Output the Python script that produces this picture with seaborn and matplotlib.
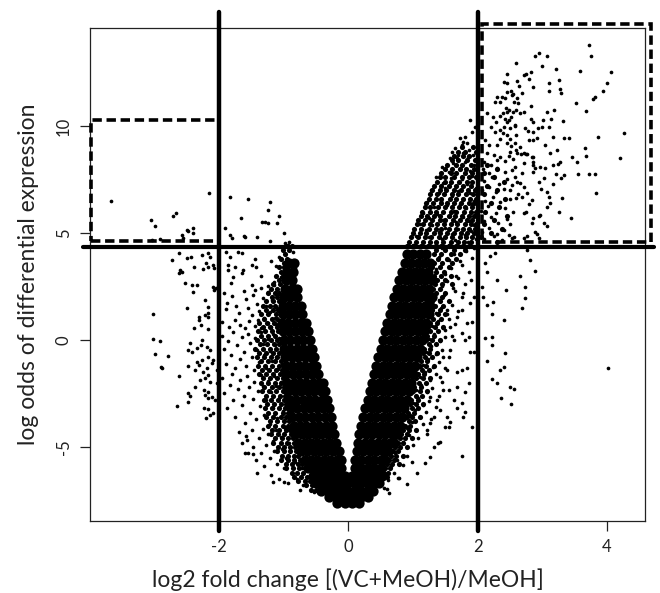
import pandas as pd
import matplotlib
matplotlib.use("Agg")
import matplotlib.pyplot as plt
from matplotlib.patches import Rectangle
import seaborn as sns

# ---------------- chart text / scales ----------------
x_label = "log2 fold change [(VC+MeOH)/MeOH]"
y_label = "log odds of differential expression"
x_ticks = [-2, 0, 2, 4]
y_ticks = [-5, 0, 5, 10]
x_lim = (-4.0, 4.59)
y_lim = (-8.46, 14.58)

# thresholds and highlighted regions
fc_cut = 2.0
odds_cut = 4.35
left_box = (-3.98, 4.62, -2.0, 10.28)     # x0, y0, x1, y1
right_box = (2.06, 4.60, 4.68, 14.78)

# ---------------- data ----------------
# solid core of the volcano, per row of log-odds
core_rows_y = [4.0, 3.6, 3.2, 2.8, 2.4, 2.0, 1.6, 1.2, 0.8, 0.4, 0.0, -0.4, -0.8, -1.2,
               -1.6, -2.0, -2.4, -2.8, -3.2, -3.6, -4.0, -4.4, -4.8, -5.2, -5.6, -6.0,
               -6.35, -6.7, -7.05, -7.35, -7.6]
core_rows_x = [
    [0.9, 1.0, 1.1, 1.2],
    [-0.92, -0.84, 0.87, 0.97, 1.07, 1.17, 1.27],
    [-0.95, -0.86, 0.83, 0.93, 1.03, 1.13, 1.23],
    [-0.96, -0.87, 0.79, 0.89, 0.99, 1.09, 1.19, 1.29],
    [-0.98, -0.88, -0.8, 0.75, 0.85, 0.95, 1.05, 1.15, 1.25],
    [-1.0, -0.9, -0.8, 0.71, 0.81, 0.91, 1.01, 1.11, 1.21, 1.3],
    [-1.02, -0.92, -0.82, -0.74, 0.68, 0.78, 0.88, 0.98, 1.08, 1.18, 1.27],
    [-1.02, -0.92, -0.82, -0.72, 0.64, 0.74, 0.84, 0.94, 1.04, 1.14, 1.24],
    [-1.03, -0.93, -0.83, -0.73, -0.65, 0.6, 0.7, 0.8, 0.9, 1.0, 1.1, 1.2],
    [-1.02, -0.92, -0.82, -0.72, -0.62, 0.57, 0.67, 0.77, 0.87, 0.97, 1.07, 1.17],
    [-1.0, -0.9, -0.8, -0.7, -0.6, 0.54, 0.64, 0.74, 0.84, 0.94, 1.04, 1.14],
    [-1.0, -0.9, -0.8, -0.7, -0.6, -0.56, 0.5, 0.6, 0.7, 0.8, 0.9, 1.0, 1.1],
    [-0.98, -0.88, -0.78, -0.68, -0.58, -0.53, 0.46, 0.56, 0.66, 0.76, 0.86, 0.96, 1.06],
    [-0.97, -0.87, -0.77, -0.67, -0.57, -0.5, 0.43, 0.53, 0.63, 0.73, 0.83, 0.93, 1.03],
    [-0.96, -0.86, -0.76, -0.66, -0.56, -0.47, 0.4, 0.5, 0.6, 0.7, 0.8, 0.9, 1.0],
    [-0.95, -0.85, -0.75, -0.65, -0.55, -0.45, -0.4, 0.37, 0.47, 0.57, 0.67, 0.77, 0.87, 0.97],
    [-0.93, -0.83, -0.73, -0.63, -0.53, -0.43, -0.36, 0.33, 0.43, 0.53, 0.63, 0.73, 0.83, 0.93],
    [-0.91, -0.81, -0.71, -0.61, -0.51, -0.41, -0.33, 0.3, 0.4, 0.5, 0.6, 0.7, 0.8, 0.9],
    [-0.89, -0.79, -0.69, -0.59, -0.49, -0.39, -0.3, 0.26, 0.36, 0.46, 0.56, 0.66, 0.76, 0.86],
    [-0.87, -0.77, -0.67, -0.57, -0.47, -0.37, -0.27, 0.23, 0.33, 0.43, 0.53, 0.63, 0.73, 0.83],
    [-0.85, -0.75, -0.65, -0.55, -0.45, -0.35, -0.25, 0.2, 0.3, 0.4, 0.5, 0.6, 0.7, 0.8],
    [-0.82, -0.72, -0.62, -0.52, -0.42, -0.32, -0.22, 0.17, 0.27, 0.37, 0.47, 0.57, 0.67, 0.75],
    [-0.78, -0.68, -0.58, -0.48, -0.38, -0.28, -0.19, 0.15, 0.25, 0.35, 0.45, 0.55, 0.65, 0.7],
    [-0.74, -0.64, -0.54, -0.44, -0.34, -0.24, -0.15, 0.13, 0.23, 0.33, 0.43, 0.53, 0.62],
    [-0.68, -0.58, -0.48, -0.38, -0.28, -0.18, -0.12, 0.1, 0.2, 0.3, 0.4, 0.5, 0.57],
    [-0.62, -0.52, -0.42, -0.32, -0.22, -0.12, 0.1, 0.2, 0.3, 0.4, 0.5],
    [-0.55, -0.45, -0.35, -0.25, -0.15, -0.05, 0.05, 0.15, 0.25, 0.35, 0.45, 0.52],
    [-0.5, -0.4, -0.3, -0.2, -0.1, 0.0, 0.1, 0.2, 0.3, 0.4, 0.47],
    [-0.42, -0.32, -0.22, -0.12, -0.02, 0.08, 0.18, 0.28, 0.38],
    [-0.3, -0.2, -0.1, 0.0, 0.1, 0.2, 0.3],
    [-0.17, -0.06, 0.05, 0.16],
]

# dense (not solid) flanks of the volcano, per row of log-odds
flank_rows_y = [9.0, 8.8, 8.6, 8.4, 8.2, 8.0, 7.8, 7.6, 7.4, 7.2, 7.0, 6.8, 6.6, 6.4, 6.2, 6.0,
                5.8, 5.6, 5.4, 5.2, 5.0, 4.8, 4.6, 4.4, 4.2, 4.0, 3.8, 3.6, 3.4, 3.2, 3.0, 2.8,
                2.6, 2.4, 2.2, 2.0, 1.8, 1.6, 1.4, 1.2, 1.0, 0.8, 0.6, 0.4, 0.2, 0.0, -0.2,
                -0.4, -0.6, -0.8, -1.0, -1.2, -1.4, -1.6, -1.8, -2.0, -2.2, -2.4, -2.6, -2.8,
                -3.0, -3.2, -3.4, -3.6, -3.8, -4.0, -4.2, -4.4, -4.6, -4.8, -5.0, -5.2, -5.4,
                -5.6, -5.8, -6.0, -6.2, -6.4, -6.6, -6.8, -7.0]
flank_rows_x = [
    [1.76, 1.93],
    [1.69, 1.8, 1.97],
    [1.63, 1.77, 1.86],
    [1.6, 1.7, 1.84, 1.96],
    [1.53, 1.66, 1.75, 1.9, 2.15],
    [1.49, 1.61, 1.73, 1.82, 1.95, 2.3],
    [1.44, 1.58, 1.67, 1.8, 1.91, 2.1],
    [1.41, 1.5, 1.64, 1.75, 1.86, 1.97, 2.25],
    [1.37, 1.49, 1.58, 1.71, 1.83, 1.92, 2.4],
    [1.33, 1.43, 1.56, 1.66, 1.77, 1.9, 2.15],
    [1.3, 1.41, 1.51, 1.63, 1.74, 1.85, 1.96, 2.3],
    [1.27, 1.37, 1.48, 1.6, 1.69, 1.82, 1.93, 2.1],
    [1.24, 1.35, 1.44, 1.57, 1.66, 1.78, 1.88, 1.98, 2.42],
    [1.2, 1.31, 1.43, 1.52, 1.64, 1.74, 1.86, 1.95, 2.2],
    [1.18, 1.27, 1.39, 1.5, 1.6, 1.71, 1.81, 1.92, 2.33],
    [1.14, 1.26, 1.35, 1.47, 1.58, 1.67, 1.79, 1.89, 1.98, 2.12],
    [1.12, 1.22, 1.33, 1.42, 1.55, 1.65, 1.75, 1.86, 1.95, 2.45],
    [1.08, 1.19, 1.3, 1.41, 1.5, 1.62, 1.73, 1.83, 1.92, 2.25],
    [1.06, 1.15, 1.27, 1.37, 1.48, 1.59, 1.68, 1.8, 1.9, 1.98, 2.1],
    [1.02, 1.13, 1.24, 1.35, 1.44, 1.56, 1.66, 1.77, 1.87, 1.96, 2.38],
    [1.0, 1.1, 1.2, 1.32, 1.42, 1.53, 1.63, 1.74, 1.84, 1.94, 2.2],
    [0.97, 1.07, 1.18, 1.28, 1.4, 1.5, 1.6, 1.72, 1.82, 1.92, 2.05],
    [0.94, 1.04, 1.15, 1.26, 1.36, 1.47, 1.58, 1.69, 1.79, 1.9, 2.3],
    [-0.97, -0.88, 0.91, 1.02, 1.12, 1.23, 1.35, 1.44, 1.56, 1.66, 1.77, 1.87],
    [-1.02, -0.92, 1.36, 1.5, 1.64, 1.8],
    [-0.98, 1.32, 1.44, 1.58, 1.72],
    [-1.05, -0.95, 1.38, 1.52, 1.67],
    [-1.0, 1.33, 1.45, 1.6],
    [-1.08, -0.99, 1.3, 1.41, 1.55],
    [-1.04, 1.35, 1.48],
    [-1.12, -1.02, 1.32, 1.44, 1.58],
    [-1.07, 1.37, 1.5],
    [-1.16, -1.06, 1.34, 1.45, 1.6],
    [-1.2, -1.11, 1.31, 1.42],
    [-1.24, -1.14, -1.07, 1.36, 1.5],
    [-1.19, -1.1, 1.33, 1.45],
    [-1.28, -1.17, -1.08, 1.3, 1.42, 1.55],
    [-1.32, -1.22, -1.13, 1.34, 1.47],
    [-1.27, -1.16, -1.09, 1.3, 1.41],
    [-1.36, -1.24, -1.12, 1.27, 1.38, 1.5],
    [-1.3, -1.19, -1.1, 1.31, 1.43],
    [-1.38, -1.26, -1.15, 1.26, 1.37],
    [-1.33, -1.21, -1.11, 1.23, 1.34, 1.46],
    [-1.4, -1.29, -1.18, -1.09, 1.27, 1.39],
    [-1.35, -1.24, -1.14, 1.22, 1.32],
    [-1.42, -1.31, -1.2, -1.1, 1.2, 1.3, 1.42],
    [-1.37, -1.26, -1.15, -1.07, 1.24, 1.35],
    [-1.44, -1.33, -1.22, -1.12, 1.17, 1.27],
    [-1.39, -1.28, -1.17, -1.08, 1.15, 1.25, 1.37],
    [-1.41, -1.3, -1.2, -1.1, 1.19, 1.3],
    [-1.36, -1.25, -1.14, -1.05, 1.12, 1.22],
    [-1.4, -1.29, -1.18, -1.08, 1.1, 1.2, 1.32],
    [-1.34, -1.23, -1.12, -1.03, 1.14, 1.25],
    [-1.38, -1.27, -1.16, -1.06, 1.07, 1.17],
    [-1.32, -1.21, -1.1, -1.01, 1.05, 1.15, 1.27],
    [-1.36, -1.25, -1.14, -1.04, 1.09, 1.2],
    [-1.3, -1.19, -1.08, -0.99, 1.02, 1.12],
    [-1.34, -1.23, -1.12, -1.02, 1.0, 1.1, 1.22],
    [-1.28, -1.17, -1.06, -0.98, 1.04, 1.14],
    [-1.31, -1.2, -1.09, -1.0, 0.97, 1.07],
    [-1.26, -1.15, -1.04, -0.96, 0.95, 1.05, 1.16],
    [-1.29, -1.18, -1.07, -0.98, 0.98, 1.08],
    [-1.24, -1.13, -1.02, -0.94, 0.92, 1.02],
    [-1.27, -1.16, -1.05, -0.96, 0.9, 0.99, 1.1],
    [-1.21, -1.1, -1.0, -0.92, 0.93, 1.03],
    [-1.24, -1.13, -1.02, -0.93, 0.87, 0.96],
    [-1.18, -1.07, -0.97, -0.9, 0.85, 0.94, 1.04],
    [-1.2, -1.09, -0.99, -0.89, 0.82, 0.9],
    [-1.14, -1.03, -0.94, -0.86, 0.8, 0.88, 0.98],
    [-1.16, -1.05, -0.95, -0.85, 0.76, 0.85],
    [-1.09, -0.99, -0.9, -0.82, 0.72, 0.8, 0.9],
    [-1.1, -1.0, -0.91, -0.81, 0.69, 0.77],
    [-1.03, -0.93, -0.84, -0.78, 0.66, 0.74, 0.84],
    [-1.04, -0.94, -0.85, -0.75, 0.63, 0.7],
    [-0.96, -0.87, -0.78, -0.72, 0.6, 0.68, 0.78],
    [-0.97, -0.86, -0.76, -0.68, 0.57, 0.65],
    [-0.88, -0.79, -0.7, 0.55, 0.62],
    [-0.84, -0.74, -0.64, 0.52, 0.6],
    [-0.78, -0.68, -0.6, 0.5],
    [-0.66, -0.56],
    [-0.58, -0.5],
]

# genes down-regulated beyond -2
down_x = [-3.67, -3.05, -3.0, -2.71, -2.67, -2.16, -2.5, -2.41, -2.4, -2.56, -2.58, -3.04, -2.91, -2.49,
          -2.73, -2.63, -2.5, -2.44, -2.27, -2.18, -2.14, -2.39, -2.25, -2.61, -2.63, -2.58, -2.2, -2.17,
          -2.08, -2.1, -2.53, -2.42, -2.34, -2.41, -2.1, -2.08, -2.05, -3.02, -2.5, -2.22, -2.18, -2.17,
          -2.32, -3.02, -2.91, -2.99, -2.79, -2.9, -2.89, -2.63, -2.48, -2.48, -2.65, -2.31, -2.28, -2.22,
          -2.18, -2.17, -2.39, -2.27, -2.28, -2.45, -2.48, -2.42, -2.35, -2.19, -2.14, -2.18, -2.27, -2.35,
          -2.31, -2.09, -2.11, -2.48, -2.37, -2.25, -2.19, -2.18, -2.3, -2.22, -2.14, -2.37, -2.24, -2.17,
          -2.22, -2.11, -2.18, -2.24, -2.18, -2.2, -2.09, -2.06, -2.04, -2.04, -2.14, -2.45]
down_y = [6.5, 5.61, 5.33, 5.79, 5.92, 6.86, 5.14, 5.22, 4.99, 4.75, 4.91, 4.67, 4.7, 5.11,
          3.74, 4.05, 3.82, 3.89, 3.97, 4.08, 3.89, 3.4, 3.33, 3.27, 3.12, 3.19, 3.58, 3.4,
          3.35, 3.5, 2.68, 2.57, 2.57, 2.26, 2.46, 2.34, 2.42, 1.21, 1.48, 1.87, 1.56, 1.25,
          1.09, 0.03, -0.03, -0.65, -0.75, -1.25, -1.32, -1.68, -2.49, -2.88, -3.08, 0.93, 0.7, 1.17,
          1.09, 0.5, 0.55, 0.0, -0.23, -0.15, -0.47, -0.55, -0.39, -0.31, -0.47, -0.78, -0.93, -1.01,
          -1.17, -0.93, -1.09, -1.21, -1.4, -1.48, -1.32, -1.64, -1.87, -1.79, -1.95, -2.18, -2.34, -2.42,
          -2.57, -2.65, -2.72, -3.19, -3.24, -3.66, -3.43, -2.8, -2.02, -1.4, -3.5, -2.62]

# left flank of the volcano (between -2 and the left arm)
left_x = [-1.02, -0.93, -0.86, -1.08, -0.97, -0.88, -1.12, -1.0, -0.9, -0.82, -1.05, -0.95, -1.15, -0.85,
          -1.25, -1.35, -1.2, -0.92,
          -1.83, -1.56, -1.22, -1.24, -1.34, -1.29, -1.24, -1.11, -1.66, -1.91, -1.83, -1.8, -1.61, -1.42,
          -1.21, -1.89, -1.83, -1.71, -1.65, -1.44, -1.5, -1.43, -1.87, -1.86, -1.75, -1.63, -1.65, -1.78,
          -1.82, -1.5, -1.44, -1.07, -1.0, -0.98, -1.6,
          -1.92, -1.88, -1.9, -1.8, -1.74, -1.7, -1.62, -1.58, -1.55, -1.5, -1.47, -1.42, -1.38, -1.35,
          -1.33, -1.3, -1.27, -1.24, -1.21, -1.18, -1.15, -1.13, -1.11, -1.1, -1.95, -1.85, -1.76, -1.68,
          -1.6, -1.54, -1.45, -1.4, -1.35, -1.25, -1.2, -1.12,
          -1.96, -1.93, -1.9, -1.86, -1.82, -1.78, -1.75, -1.72, -1.68, -1.65, -1.62, -1.58, -1.55, -1.52,
          -1.5, -1.46, -1.44, -1.41, -1.38, -1.35, -1.33, -1.3, -1.27, -1.24, -1.22, -1.19, -1.16, -1.14,
          -1.12, -1.09, -1.07, -1.05, -1.03,
          -1.95, -1.92, -1.88, -1.84, -1.8, -1.78, -1.75, -1.71, -1.68, -1.65, -1.62, -1.6, -1.57, -1.54,
          -1.52, -1.48, -1.46, -1.43, -1.4, -1.37, -1.35, -1.32, -1.3, -1.27, -1.25, -1.22, -1.2, -1.17,
          -1.15, -1.12, -1.1, -1.07, -1.05, -1.02, -1.0, -0.97, -0.95, -0.92, -0.9, -0.87,
          -1.7, -1.65, -1.58, -1.55, -1.5, -1.47, -1.43, -1.42, -1.38, -1.35, -1.32, -1.3, -1.27, -1.24,
          -1.22, -1.2, -1.17, -1.15, -1.12, -1.1, -1.08, -1.05, -1.03, -1.0, -0.98, -0.96, -0.94, -0.92,
          -0.9, -0.88, -0.85, -0.83, -0.8, -0.78, -0.76, -0.75, -0.72, -0.7, -1.16, -1.0, -0.54, -1.6,
          -1.47, -1.57]
left_y = [4.3, 4.45, 4.1, 3.9, 3.75, 3.6, 3.45, 3.3, 3.15, 3.35, 2.95, 2.8, 2.7, 2.6,
          2.5, 3.0, 3.7, 4.6,
          6.67, 6.59, 6.43, 6.07, 5.5, 5.5, 5.45, 5.45, 5.71, 5.22, 4.91, 4.75, 4.86, 4.8,
          4.64, 4.13, 3.89, 4.13, 4.05, 3.77, 3.5, 3.43, 3.5, 3.27, 3.4, 3.27, 3.12, 2.96,
          2.65, 2.57, 2.34, 5.79, 4.99, 4.52, 4.83,
          2.2, 1.75, 1.45, 2.05, 1.6, 1.25, 2.3, 1.9, 1.5, 1.15, 2.1, 1.7, 1.35, 2.45,
          1.95, 1.05, 1.6, 2.25, 1.3, 1.85, 2.55, 1.05, 2.1, 1.5, 0.85, 0.6, 0.95, 0.7,
          0.55, 0.9, 0.65, 0.95, 0.55, 0.8, 0.6, 0.75,
          0.2, -0.4, -1.1, -0.05, -0.7, 0.35, -1.3, -0.25, -0.9, 0.15, -0.55, -1.2, 0.3, -0.15,
          -0.8, -1.4, 0.1, -0.45, -1.05, 0.35, -0.2, -0.7, -1.3, 0.05, -0.5, -1.0, 0.3, -0.25,
          -0.8, -1.35, 0.1, -0.55, -1.1,
          -1.8, -2.5, -3.2, -2.1, -1.6, -2.8, -3.6, -2.3, -1.85, -3.05, -2.6, -3.9, -1.7, -2.2,
          -3.4, -2.75, -1.95, -3.7, -2.4, -3.1, -1.65, -2.15, -3.5, -2.8, -1.9, -3.95, -2.45, -3.2,
          -1.7, -2.15, -3.65, -2.7, -1.95, -3.3, -2.4, -1.75, -3.0, -3.75, -2.2, -3.45,
          -4.3, -4.8, -4.5, -5.3, -4.2, -5.0, -5.6, -6.2, -4.6, -5.3, -4.15, -5.9, -4.9, -4.4,
          -5.5, -6.3, -4.7, -5.2, -4.2, -5.8, -6.5, -4.55, -5.1, -6.0, -4.1, -5.5, -6.7, -4.8,
          -5.2, -6.2, -4.4, -5.7, -6.5, -4.9, -5.3, -7.0, -6.0, -6.8, -6.62, -6.62, -7.09, -5.3,
          -5.35, -4.67]

# right flank of the volcano (between the right arm and +2)
right_x = [0.55, 0.62, 0.7, 0.78, 0.66, 0.75, 0.84, 0.72, 0.8, 0.9, 0.98, 0.85, 0.93, 1.0,
           1.08, 0.9, 0.98, 1.05, 1.15, 1.22, 0.95, 1.03, 1.1, 1.2, 1.28, 1.0, 1.08, 1.16,
           1.25, 1.35, 1.05, 1.13, 1.21, 1.3, 1.4, 1.1, 1.18, 1.26, 1.35, 1.45, 1.15, 1.23,
           1.31, 1.4, 1.5, 1.2, 1.28, 1.36, 1.45, 1.55, 1.25, 1.33, 1.41, 1.5, 1.6, 1.3,
           1.38, 1.46, 1.55, 1.65, 1.35, 1.43, 1.52, 1.6, 1.7, 1.4, 1.48, 1.56, 1.65, 1.75,
           1.45, 1.53, 1.62, 1.7, 1.8, 1.5, 1.58, 1.67, 1.76, 1.86, 1.55, 1.63, 1.72, 1.82,
           1.92, 1.4, 1.35, 1.45, 1.95, 1.9,
           1.75, 1.91, 1.78, 1.81, 1.5, 1.55, 1.39, 1.42, 1.57, 1.06, 0.91, 0.77, 0.63, 0.59,
           1.19, 1.26, 1.32, 1.52, 1.68, 1.76, 1.63, 1.55, 1.68, 1.81, 1.86, 1.68, 1.76, 1.83,
           1.88, 1.94, 1.81, 1.76, 1.91, 1.83, 1.86, 1.26, 1.32, 1.21, 1.42, 1.37, 1.47, 1.26,
           1.42, 1.52, 1.47, 1.57, 1.63, 1.5, 1.57, 1.68, 1.52, 1.76, 1.88, 1.94, 1.78]
right_y = [-6.9, -6.55, -6.2, -6.45, -5.9, -5.6, -5.85, -5.3, -5.05, -5.4, -5.7, -4.75, -4.45, -4.9,
           -4.6, -4.1, -3.85, -4.2, -3.95, -4.4, -3.5, -3.25, -3.6, -3.35, -3.7, -2.95, -2.7, -3.05,
           -2.85, -3.15, -2.35, -2.1, -2.45, -2.25, -2.6, -1.75, -1.5, -1.85, -1.6, -1.95, -1.15, -0.9,
           -1.25, -1.05, -1.3, -0.55, -0.3, -0.65, -0.45, -0.8, 0.05, 0.3, -0.05, 0.45, 0.2, 0.65,
           0.9, 0.55, 1.0, 0.75, 1.25, 1.5, 1.2, 1.65, 1.35, 1.85, 2.1, 1.8, 2.3, 2.0,
           2.5, 2.75, 2.45, 2.9, 2.6, 3.1, 3.35, 3.0, 3.5, 3.2, 3.75, 4.0, 3.7, 4.15,
           3.85, 3.9, 3.3, 4.3, 4.3, 2.8,
           -5.41, -4.05, -3.58, -3.35, -4.05, -4.05, -4.83, -4.75, -3.82, -6.2, -6.73, -6.46, -7.13, -6.98,
           -5.76, -5.45, -4.98, -3.58, -3.19, -2.96, -2.8, -2.34, -2.18, -2.42, -2.02, -1.48, -1.4, -1.32,
           -0.55, -0.55, 0.0, 0.31, 0.86, 0.78, 0.16, -3.89, -3.58, -4.21, -3.27, -2.8, -2.34, -2.65,
           -1.71, -1.4, -0.78, -0.47, 0.0, 0.16, 0.62, 1.09, 1.4, 1.4, 1.71, 2.02, 2.18]

# upper arm of the volcano (log odds above the cut-off, fold change up to +2)
arm_x = [1.45, 1.55, 1.62, 1.72, 1.8, 1.88, 1.95, 1.35, 1.46, 1.58, 1.66, 1.75, 1.84, 1.92,
         1.98, 1.28, 1.4, 1.5, 1.6, 1.7, 1.78, 1.88, 1.95, 1.22, 1.33, 1.43, 1.53, 1.63,
         1.72, 1.82, 1.92, 1.98, 1.15, 1.25, 1.37, 1.47, 1.57, 1.67, 1.77, 1.87, 1.95, 1.1,
         1.2, 1.3, 1.4, 1.5, 1.6, 1.7, 1.8, 1.9, 1.05, 1.15, 1.25, 1.35, 1.45, 1.55,
         1.65, 1.75, 1.85, 1.97, 1.0, 1.85, 1.75,
         1.88, 1.73, 1.81, 1.77, 1.83, 1.91, 1.96, 1.6, 1.65, 1.7, 1.78, 1.86, 1.93, 1.57, 1.68]
arm_y = [8.1, 7.85, 8.25, 8.0, 8.3, 7.9, 8.2, 7.6, 7.35, 7.55, 7.2, 7.5, 7.3, 7.65,
         7.1, 7.0, 6.85, 7.1, 6.75, 6.95, 6.6, 6.85, 6.5, 6.45, 6.2, 6.5, 6.3, 6.05,
         6.35, 6.15, 6.3, 5.9, 5.95, 5.7, 5.9, 5.6, 5.8, 5.5, 5.75, 5.55, 5.35, 5.4,
         5.15, 5.35, 5.05, 5.25, 4.95, 5.2, 4.9, 5.1, 4.85, 4.6, 4.8, 4.5, 4.7, 4.45,
         4.65, 4.4, 4.6, 4.7, 4.45, 8.55, 9.1,
         10.28, 9.42, 9.5, 9.27, 9.19, 9.73, 9.97, 8.8, 8.96, 8.64, 8.72, 8.88, 8.64, 8.49, 8.49]

# genes up-regulated beyond +2
up_x = [3.73, 3.76, 2.95, 2.89, 3.08, 2.59, 2.99, 3.22, 3.59, 4.06, 2.45, 2.82, 2.71, 2.75,
        2.8, 2.41, 2.46, 2.61, 2.64, 2.85, 3.11, 3.26, 3.28, 3.29, 4.0, 3.1, 3.94, 2.52,
        2.37, 2.43, 2.55, 2.69, 2.56, 2.62, 2.44, 2.48, 3.82, 3.79, 3.52, 2.83, 2.39, 2.54,
        2.6, 2.65, 2.71, 3.18, 3.07, 3.68, 2.42, 2.45, 2.48, 2.58, 2.83, 2.86, 3.01, 3.14,
        3.32, 2.35, 2.39, 2.5, 2.46, 2.74, 2.78, 2.86, 2.93, 2.99, 3.11, 3.16, 3.34, 3.41,
        3.87, 4.27, 2.45, 2.58, 2.66, 2.8, 2.86, 2.92, 3.04, 3.23, 3.66, 3.67, 3.46, 4.2,
        2.86, 2.71, 2.76, 2.5, 2.61, 3.83, 3.44, 3.72, 3.82, 3.55, 3.53,
        3.26, 3.3, 3.17, 3.22, 3.29, 3.34, 3.12, 3.16, 3.25, 3.28, 3.04, 2.97, 2.86, 2.89,
        2.86, 3.02, 2.95, 2.98, 3.07, 3.11, 3.12, 3.07, 2.97, 2.95, 2.84, 2.79, 2.75, 2.72,
        2.86, 2.84, 3.02, 3.07, 2.89, 2.92, 2.95, 2.76, 2.71, 2.56, 2.53, 2.68, 2.63, 2.76,
        2.6, 2.66, 2.61, 2.71, 2.58, 2.53, 2.5, 2.53, 2.58, 2.68, 2.71, 2.67, 2.75, 2.84, 2.86,
        2.45, 2.53, 2.61, 2.35, 2.3, 2.27,
        2.15, 2.23, 2.28, 2.35, 2.45, 2.52, 2.58, 2.4, 2.2, 2.27, 2.35, 2.5, 2.6, 2.12,
        2.17, 2.3, 2.52, 2.6, 2.15, 2.25, 2.35, 2.48, 2.1, 2.2, 2.3, 2.42, 2.55,
        2.08, 2.18, 2.3, 2.42, 2.1, 2.22, 2.33, 2.45, 2.06, 2.17, 2.28, 2.4, 2.12, 2.23,
        2.35, 2.5, 2.05, 2.16, 2.28, 2.42, 2.1, 2.2, 2.32, 2.45, 2.06, 2.18, 2.3, 2.4,
        2.1, 2.25, 2.38, 2.5, 2.55, 2.48,
        2.09, 2.14, 2.22, 2.24, 2.4, 2.68, 2.74, 2.12, 2.22, 2.22, 2.14, 2.43, 2.35, 2.4,
        2.22, 2.3, 2.5, 2.57, 2.36, 2.51, 4.02, 2.81, 2.89, 2.74, 2.66, 2.44, 2.3, 2.14,
        2.19, 2.27, 2.12, 2.06, 2.76]
up_y = [13.77, 13.29, 13.4, 13.29, 13.29, 12.96, 12.82, 12.65, 12.58, 12.53, 12.44, 12.52, 12.38, 12.41,
        12.18, 12.04, 12.0, 12.12, 11.87, 11.81, 12.02, 12.15, 11.71, 11.56, 12.02, 11.64, 11.64, 11.64,
        11.37, 11.29, 11.5, 11.53, 11.14, 11.06, 10.83, 10.75, 11.37, 11.26, 11.07, 10.95, 10.59, 10.67,
        10.75, 10.59, 10.67, 10.75, 10.67, 10.7, 10.31, 10.2, 10.28, 10.05, 10.31, 10.2, 10.28, 10.31,
        10.25, 9.81, 9.66, 9.89, 9.58, 9.89, 9.78, 9.73, 9.92, 9.94, 9.97, 9.5, 9.42, 9.42,
        9.5, 9.69, 9.19, 9.22, 9.03, 9.35, 9.35, 9.42, 9.11, 8.88, 8.96, 8.6, 8.57, 8.49,
        8.57, 8.72, 8.69, 8.8, 8.75, 6.88, 5.69, 7.74, 7.76, 7.74, 8.34,
        5.98, 6.65, 7.29, 7.76, 7.56, 7.71, 8.75, 8.18, 8.21, 8.33, 8.02, 8.1, 8.33, 8.02,
        7.86, 7.55, 7.4, 7.04, 6.93, 6.7, 6.42, 6.23, 5.84, 5.79, 6.54, 6.36, 6.0, 5.95,
        5.69, 5.45, 5.45, 5.33, 5.06, 4.95, 4.75, 4.86, 4.75, 4.83, 4.75, 6.7, 6.82, 6.86,
        6.62, 7.32, 7.4, 7.16, 7.63, 7.24, 7.01, 7.94, 8.1, 7.79, 8.26, 8.69, 8.69, 8.57, 8.18,
        11.6, 11.45, 11.29, 11.14, 11.37, 11.14,
        10.6, 10.4, 10.2, 10.45, 10.65, 10.4, 10.0, 9.95, 9.95, 9.7, 9.4, 9.4, 9.6, 9.35,
        9.1, 9.1, 9.05, 8.9, 8.75, 8.65, 8.55, 8.6, 8.3, 8.2, 8.4, 8.35, 8.45,
        8.0, 7.8, 8.05, 7.85, 7.45, 7.6, 7.3, 7.5, 7.0, 7.15, 6.9, 7.05, 6.5, 6.7,
        6.45, 6.6, 6.05, 6.25, 5.95, 6.15, 5.55, 5.75, 5.45, 5.65, 5.05, 5.25, 4.95, 5.15,
        4.7, 4.85, 4.65, 5.4, 6.0, 4.9,
        2.02, 1.64, 1.21, 1.79, 0.93, 1.48, 1.95, 0.08, 0.15, -0.23, -0.97, -0.59, -1.4, -1.25,
        -1.84, -2.0, -2.21, -2.3, -2.73, -2.99, -1.29, 3.74, 3.24, 2.49, 2.99, 2.34, 2.8, 3.19,
        3.93, 4.05, 3.58, 2.49, 4.2]

# ---------------- tables ----------------
assert len(core_rows_y) == len(core_rows_x)
assert len(flank_rows_y) == len(flank_rows_x)
core_df = pd.DataFrame(
    [(x, y) for y, row in zip(core_rows_y, core_rows_x) for x in row], columns=["logFC", "B"])
flank_df = pd.DataFrame(
    [(x, y) for y, row in zip(flank_rows_y, flank_rows_x) for x in row], columns=["logFC", "B"])
dots_df = pd.concat([
    pd.DataFrame({"logFC": down_x, "B": down_y}),
    pd.DataFrame({"logFC": left_x, "B": left_y}),
    pd.DataFrame({"logFC": right_x, "B": right_y}),
    pd.DataFrame({"logFC": arm_x, "B": arm_y}),
    pd.DataFrame({"logFC": up_x, "B": up_y}),
], ignore_index=True)

# ---------------- figure ----------------
sns.set_style("white")
plt.rcParams["font.family"] = ["Lato", "DejaVu Sans"]

fig = plt.figure(figsize=(6.6, 5.93), dpi=100)
ax = fig.add_axes([90 / 660, 72 / 593, 555 / 660, 493 / 593])

sns.scatterplot(data=core_df, x="logFC", y="B", s=55, color="black", linewidth=0,
                ax=ax, legend=False, zorder=2)
sns.scatterplot(data=flank_df, x="logFC", y="B", s=14, color="black", linewidth=0,
                ax=ax, legend=False, zorder=2)
sns.scatterplot(data=dots_df, x="logFC", y="B", s=7, color="black", linewidth=0,
                ax=ax, legend=False, zorder=3)

ax.set_xlim(*x_lim)
ax.set_ylim(*y_lim)
ax.set_xticks(x_ticks)
ax.set_yticks(y_ticks)
ax.set_xticklabels([str(t) for t in x_ticks])
ax.set_yticklabels([str(t) for t in y_ticks])

for sp in ax.spines.values():
    sp.set_visible(True)
    sp.set_color("#222222")
    sp.set_linewidth(0.9)

ax.tick_params(axis="both", direction="out", length=7, width=0.9, color="#222222",
               labelsize=12, labelcolor="#222222", pad=6)
ax.tick_params(axis="x", bottom=True)
ax.tick_params(axis="y", left=True)
for lab in ax.get_yticklabels():
    lab.set_rotation(90)
    lab.set_va("center")
    lab.set_ha("right")

ax.set_xlabel(x_label, fontsize=16.5, color="#222222")
ax.set_ylabel(y_label, fontsize=16.5, color="#222222")
ax.xaxis.set_label_coords(0.465, -0.12)
ax.xaxis.label.set_va("center")
ax.yaxis.set_label_coords(-0.11, 0.5)
ax.yaxis.label.set_va("center")

# threshold lines (extend a little beyond the plot box)
for xv in (-fc_cut, fc_cut):
    ax.axvline(xv, ymin=-0.02, ymax=1.032, color="black", lw=3.2, clip_on=False, zorder=5)
ax.axhline(odds_cut, xmin=-0.0126, xmax=1.016, color="black", lw=3.0, clip_on=False, zorder=5)

# dashed highlight boxes
for (x0, y0, x1, y1) in (left_box, right_box):
    ax.add_patch(Rectangle((x0, y0), x1 - x0, y1 - y0, fill=False, edgecolor="black",
                           lw=2.6, linestyle=(0, (2.6, 1.3)), clip_on=False, zorder=6))

fig.savefig("out.png", dpi=100, facecolor="white")
